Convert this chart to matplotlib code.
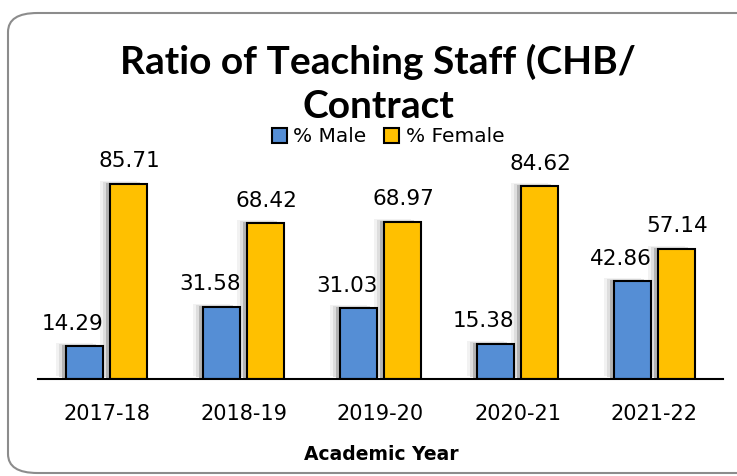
import numpy as np
import matplotlib
matplotlib.use("Agg")
import matplotlib.pyplot as plt
import matplotlib.transforms as mtransforms
from matplotlib.patches import FancyBboxPatch, Patch

years = ["2017-18", "2018-19", "2019-20", "2020-21", "2021-22"]
male = [14.29, 31.58, 31.03, 15.38, 42.86]
female = [85.71, 68.42, 68.97, 84.62, 57.14]

blue = "#558ed5"
gold = "#ffc000"

plt.rcParams['font.family'] = ['DejaVu Sans']

fig = plt.figure(figsize=(7.37, 4.76), dpi=100)

# rounded chart frame
frame = FancyBboxPatch((8 / 737, 3 / 476), 760 / 737, 460 / 476,
                       boxstyle="round,pad=0,rounding_size=0.04",
                       transform=fig.transFigure, fill=False,
                       edgecolor="#8c8c8c", linewidth=1.5)
fig.patches.append(frame)

ax = fig.add_axes([38 / 737, 1 - 379 / 476, (723 - 38) / 737, (379 - 151) / 476])
x = np.arange(len(years))
w = 0.27
off = 0.164

# soft shadow on the left of each bar (shifted copies)
for dx, dy, c in [(-10, 3, "#f2f2f2"), (-7, 2, "#dedede"), (-4, 1, "#b4b4b4")]:
    tr = mtransforms.offset_copy(ax.transData, fig=fig, x=dx, y=dy, units="dots")
    for xs, vals in [(x - off, male), (x + off, female)]:
        sb = ax.bar(xs, vals, w, color=c, linewidth=0, zorder=2)
        for r in sb:
            r.set_transform(tr)

b1 = ax.bar(x - off, male, w, color=blue, edgecolor="black", linewidth=1.5, zorder=3)
b2 = ax.bar(x + off, female, w, color=gold, edgecolor="black", linewidth=1.5, zorder=3)

for xi, v in zip(x, male):
    ax.annotate(f"{v:.2f}", (xi - off, v), xytext=(-8, 9), textcoords="offset points",
                ha="center", va="bottom", fontsize=15.5)
for xi, v in zip(x, female):
    ax.annotate(f"{v:.2f}", (xi + off, v), xytext=(0, 9), textcoords="offset points",
                ha="center", va="bottom", fontsize=15.5)

ax.set_xlim(-0.5, 4.5)
ax.set_ylim(0, 100)
ax.set_xticks(x)
ax.set_xticklabels(years, fontsize=15)
ax.tick_params(axis="x", length=0, pad=18)
ax.set_yticks([])
for s in ["top", "right", "left"]:
    ax.spines[s].set_visible(False)
ax.spines["bottom"].set_linewidth(1.5)
ax.spines["bottom"].set_zorder(4)
ax.patch.set_visible(False)

fig.text(381 / 737, 1 - 455 / 476, "Academic Year", ha="center", va="center",
         fontsize=13.5, fontweight="bold")

fig.text(378 / 737, 1 - 62 / 476, "Ratio of Teaching Staff (CHB/", ha="center", va="center",
         fontsize=28, fontweight="bold", family="Lato")
fig.text(378 / 737, 1 - 106 / 476, "Contract", ha="center", va="center",
         fontsize=28, fontweight="bold", family="Lato")

handles = [Patch(facecolor=blue, edgecolor="black", linewidth=1.5, label="% Male"),
           Patch(facecolor=gold, edgecolor="black", linewidth=1.5, label="% Female")]
fig.legend(handles=handles, loc="center", bbox_to_anchor=(388 / 737, 1 - 137 / 476),
           ncol=2, frameon=False, fontsize=14.5, handlelength=0.75, handleheight=0.75,
           handletextpad=0.3, columnspacing=0.9, borderpad=0)

fig.savefig("out.png", dpi=100)
